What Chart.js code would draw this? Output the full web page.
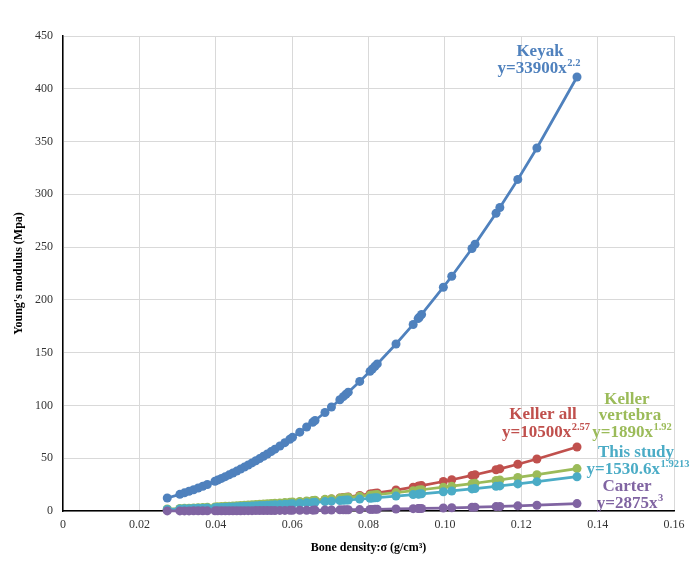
<!DOCTYPE html>
<html><head><meta charset="utf-8">
<script src="https://cdn.jsdelivr.net/npm/chart.js@4"></script>
<style>html,body{margin:0;padding:0;background:#fff;}</style>
</head><body>
<canvas id="c" width="700" height="580" style="width:700px;height:580px;display:block"></canvas>
<script>
const density = [0.0273,0.0306,0.0318,0.0330,0.0342,0.0354,0.0366,0.0378,0.0398,0.0405,0.0415,0.0425,0.0435,0.0445,0.0455,0.0465,0.0475,0.0485,0.0495,0.0505,0.0515,0.0525,0.0535,0.0545,0.0555,0.0568,0.0581,0.0594,0.0601,0.0620,0.0638,0.0654,0.0660,0.0686,0.0703,0.0725,0.0734,0.0741,0.0747,0.0777,0.0804,0.0810,0.0817,0.0823,0.0872,0.0917,0.0930,0.0933,0.0939,0.0996,0.1018,0.1071,0.1079,0.1134,0.1144,0.1191,0.1241,0.1346];
const keyak = [12.29,15.80,17.20,18.66,20.18,21.77,23.43,25.15,28.18,29.28,30.89,32.55,34.26,36.02,37.82,39.68,41.57,43.53,45.53,47.57,49.67,51.82,54.02,56.26,58.56,61.63,64.77,67.99,69.76,74.71,79.58,84.01,85.74,93.33,98.50,105.41,108.30,110.58,112.57,122.77,132.33,134.53,137.11,139.33,158.22,176.72,182.30,183.58,186.19,212.00,222.40,248.71,252.80,282.05,287.52,314.16,343.91,411.17];
const kellerAll = [1.00,1.35,1.49,1.64,1.79,1.96,2.14,2.32,2.65,2.77,2.95,3.13,3.33,3.53,3.73,3.95,4.17,4.40,4.64,4.88,5.14,5.40,5.66,5.94,6.22,6.61,7.00,7.41,7.64,8.27,8.90,9.49,9.72,10.73,11.42,12.36,12.76,13.08,13.35,14.78,16.13,16.44,16.81,17.13,19.87,22.61,23.45,23.64,24.04,27.97,29.58,33.71,34.36,39.04,39.93,44.29,49.22,60.65];
const kellerVertebra = [1.88,2.34,2.52,2.70,2.90,3.09,3.30,3.51,3.87,4.01,4.20,4.40,4.60,4.80,5.01,5.22,5.44,5.66,5.89,6.12,6.36,6.59,6.84,7.09,7.34,7.67,8.01,8.36,8.55,9.07,9.59,10.05,10.23,11.02,11.55,12.25,12.55,12.78,12.98,14.00,14.95,15.16,15.41,15.63,17.47,19.24,19.76,19.89,20.13,22.55,23.51,25.92,26.29,28.93,29.42,31.78,34.40,40.19];
const thisStudy = [1.51,1.89,2.03,2.18,2.33,2.49,2.66,2.83,3.12,3.23,3.39,3.55,3.71,3.87,4.04,4.21,4.39,4.57,4.75,4.94,5.13,5.32,5.51,5.71,5.92,6.19,6.46,6.75,6.90,7.32,7.74,8.11,8.26,8.89,9.32,9.89,10.13,10.31,10.47,11.30,12.06,12.23,12.44,12.61,14.10,15.53,15.95,16.05,16.25,18.21,18.98,20.93,21.23,23.36,23.76,25.66,27.78,32.46];
const carter = [0.06,0.08,0.09,0.10,0.12,0.13,0.14,0.16,0.18,0.19,0.21,0.22,0.24,0.25,0.27,0.29,0.31,0.33,0.35,0.37,0.39,0.42,0.44,0.47,0.49,0.53,0.56,0.60,0.62,0.69,0.75,0.80,0.83,0.93,1.00,1.10,1.14,1.17,1.20,1.35,1.49,1.53,1.57,1.60,1.91,2.22,2.31,2.34,2.38,2.84,3.03,3.53,3.61,4.19,4.30,4.86,5.49,7.01];

const seriesNames = ['Keyak','Keller all','Keller vertebra','This study','Carter'];
const seriesValues = [keyak, kellerAll, kellerVertebra, thisStudy, carter];
const xTickLabels = ['0','0.02','0.04','0.06','0.08','0.10','0.12','0.14','0.16'];
const yTickLabels = ['0','50','100','150','200','250','300','350','400','450'];
const xTitle = 'Bone density:\u03c3 (g/cm\u00b3)';
const yTitle = "Young's modulus (Mpa)";

const colors = ['#4F81BD','#C0504D','#9BBB59','#4BACC6','#8064A2'];
const SERIF = '"Liberation Serif", "Times New Roman", serif';

// equation annotations: [text, superscript, centre x, centre y]
const notes = [
  {c:0, lines:[['Keyak','',540,52],['y=33900x','2.2',539,69]]},
  {c:1, lines:[['Keller all','',543,415],['y=10500x','2.57',546,433]]},
  {c:2, lines:[['Keller','',627,400],['vertebra','',630,416],['y=1890x','1.92',632,433]]},
  {c:3, lines:[['This study','',636,453],['y=1530.6x','1.9213',638,470]]},
  {c:4, lines:[['Carter','',627,487],['y=2875x','3',630,504]]}
];

const notePlugin = {
  id:'notes',
  afterDraw(chart){
    const ctx = chart.ctx;
    ctx.save();
    ctx.textBaseline = 'middle';
    ctx.textAlign = 'left';
    notes.forEach(n => {
      ctx.fillStyle = colors[n.c];
      n.lines.forEach(([base, sup, cx, cy]) => {
        ctx.font = 'bold 17px ' + SERIF;
        const wb = ctx.measureText(base).width;
        let ws = 0;
        if (sup) { ctx.font = 'bold 10.5px ' + SERIF; ws = ctx.measureText(sup).width + 0.5; }
        const x0 = cx - (wb + ws) / 2;
        ctx.font = 'bold 17px ' + SERIF;
        ctx.fillText(base, x0, cy);
        if (sup) { ctx.font = 'bold 10.5px ' + SERIF; ctx.fillText(sup, x0 + wb + 0.5, cy - 6); }
      });
    });
    ctx.restore();
  }
};

const datasets = seriesValues.map((vals, i) => ({
  label: seriesNames[i],
  data: density.map((x, j) => ({x: x, y: vals[j]})),
  borderColor: colors[i],
  backgroundColor: colors[i],
  pointBackgroundColor: colors[i],
  pointBorderColor: colors[i],
  pointRadius: 4.5,
  pointBorderWidth: 0,
  borderWidth: 2.75,
  tension: 0,
  showLine: true,
  clip: false,
  order: 5 - i
}));

new Chart(document.getElementById('c'), {
  type: 'scatter',
  data: { datasets },
  options: {
    responsive: false,
    devicePixelRatio: 1,
    animation: false,
    layout: { padding: { top: 36, right: 26, left: 0, bottom: 0 } },
    plugins: { legend: { display: false }, tooltip: { enabled: false } },
    scales: {
      x: {
        type: 'linear', min: 0, max: 0.16,
        ticks: { stepSize: 0.02, padding: 7, color: '#333',
          font: { family: SERIF, size: 12 },
          callback: (v, i) => xTickLabels[i] },
        grid: { color: '#d9d9d9', lineWidth: 1, drawTicks: false },
        border: { color: '#000', width: 1.5 },
        title: { display: true, text: xTitle, color: '#000',
          font: { family: SERIF, size: 12, weight: 'bold' },
          padding: { top: 0, bottom: 25 } },
        afterFit: s => { s.height = 69; }
      },
      y: {
        type: 'linear', min: 0, max: 450,
        ticks: { stepSize: 50, padding: 10, color: '#333',
          font: { family: SERIF, size: 12 },
          callback: (v, i) => yTickLabels[i] },
        grid: { color: '#d9d9d9', lineWidth: 1, drawTicks: false },
        border: { color: '#000', width: 1.5 },
        title: { display: true, text: yTitle, color: '#000',
          font: { family: SERIF, size: 12, weight: 'bold' },
          padding: { top: 12, bottom: 0 } },
        afterFit: s => { s.width = 63; }
      }
    }
  },
  plugins: [notePlugin]
});
</script>
</body></html>
